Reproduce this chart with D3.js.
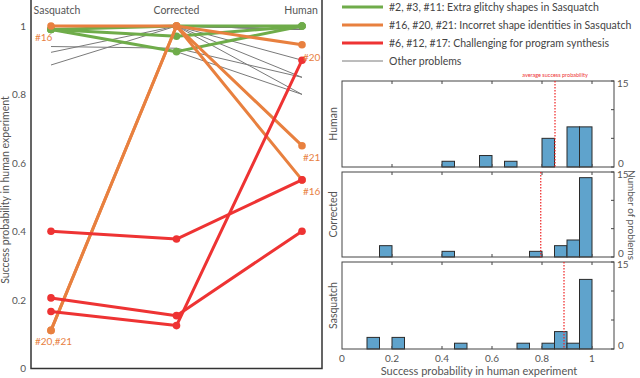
<!DOCTYPE html>
<html><head><meta charset="utf-8">
<script src="https://cdn.jsdelivr.net/npm/d3@7/dist/d3.min.js"></script>
<style>body{margin:0;background:#fff}svg{display:block}text{font-family:Lato,"Open Sans",sans-serif}</style>
</head><body><svg id="c" width="640" height="378"></svg>
<script>
// ---------- data ----------
const stages = ["Sasquatch", "Corrected", "Human"];
const yTicks = [0, 0.2, 0.4, 0.6, 0.8, 1];
// problems: values at [Sasquatch, Corrected, Human]
const otherProblems = [
  [0.94, 0.935, 0.85],
  [0.923, 1.0, 0.99],
  [0.886, 1.0, 0.99],
  [0.99, 1.0, 0.90],
  [0.99, 1.0, 0.85],
  [0.99, 1.0, 0.80],
  [0.99, 0.925, 0.80],
  [0.99, 1.0, 0.99],
  [0.99, 1.0, 1.0],
  [0.99, 1.0, 1.0],
  [1.0, 1.0, 1.0],
  [1.0, 1.0, 0.99],
  [0.99, 1.0, 1.0],
  [1.0, 1.0, 1.0]
];
const glitchyProblems = [   // #2, #3, #11
  [0.99, 1.0, 1.0],
  [0.99, 0.97, 1.0],
  [0.99, 0.925, 1.0]
];
const identityProblems = [  // #16, #20, #21
  [1.0, 1.0, 0.55],
  [0.11, 1.0, 0.945],
  [0.11, 1.0, 0.65]
];
const synthesisProblems = [ // #6, #12, #17
  [0.40, 0.377, 0.55],
  [0.205, 0.153, 0.40],
  [0.165, 0.124, 0.90]
];
const legendLabels = [
  "#2, #3, #11: Extra glitchy shapes in Sasquatch",
  "#16, #20, #21: Incorret shape identities in Sasquatch",
  "#6, #12, #17: Challenging for program synthesis",
  "Other problems"
];
// histograms: counts per 0.05-wide bin from 0 to 1
const binEdges = d3.range(0, 1.0001, 0.05);
const humanCounts     = [0,0,0,0,0,0,0,0,1,0,0,2,0,1,0,0,5,0,7,7];
const correctedCounts = [0,0,0,2,0,0,0,0,1,0,0,0,0,0,0,1,0,2,3,14];
const sasquatchCounts = [0,0,2,0,2,0,0,0,0,1,0,0,0,0,1,0,1,3,1,12];
const averages = {Human: 0.852, Corrected: 0.795, Sasquatch: 0.888};
const histTicks = [0, 0.2, 0.4, 0.6, 0.8, 1];
const countTicks = [0, 5, 10, 15];

// ---------- styles ----------
const cGreen = "#6fac4a", cOrange = "#e8803f", cRed = "#ee3333", cGray = "#7a7a7a";
const cText = "#555";
const svg = d3.select("#c");

// ---------- left panel ----------
const x = d3.scalePoint().domain(stages).range([51, 302]);
const y = d3.scaleLinear().domain([0, 1]).range([368, 26]);
const L = svg.append("g");
L.append("path").attr("d", "M31,-2V368.5H322V-2").attr("fill", "none").attr("stroke", "#333").attr("stroke-width", 1.5);
L.selectAll(".yt").data(yTicks).enter().append("text")
  .attr("x", 26).attr("y", d => y(d) + 4).attr("text-anchor", "end")
  .attr("font-size", 10).attr("fill", cText).text(d => d);
L.selectAll(".st").data(stages).enter().append("text")
  .attr("x", d => d === "Sasquatch" ? x(d) + 6 : d === "Human" ? x(d) - 1 : x(d))
  .attr("y", 14).attr("text-anchor", "middle")
  .attr("font-size", 10.5).attr("fill", cText).text(d => d);
L.append("text").attr("transform", "translate(9,190) rotate(-90)")
  .attr("text-anchor", "middle").attr("font-size", 10.5).attr("fill", cText)
  .text("Success probability in human experiment");

const line = d3.line().x((d, i) => x(stages[i])).y(d => y(d));
function group(data, color, w, r) {
  const g = L.append("g");
  g.selectAll("path").data(data).enter().append("path")
    .attr("d", line).attr("fill", "none").attr("stroke", color).attr("stroke-width", w)
    .attr("stroke-linejoin", "round");
  if (r > 0) {
    data.forEach(row => row.forEach((v, i) => {
      g.append("circle").attr("cx", x(stages[i])).attr("cy", y(v)).attr("r", r).attr("fill", color);
    }));
  }
}
group(otherProblems, cGray, 1, 0);
group(glitchyProblems, cGreen, 3, 3.8);
group(identityProblems, cOrange, 3, 3.8);
group(synthesisProblems, cRed, 3, 3.8);

const ann = [
  {t: "#16", s: 0, v: 1.0, dx: -16, dy: 15},
  {t: "#20", s: 2, v: 0.945, dx: 1, dy: 16},
  {t: "#21", s: 2, v: 0.65, dx: 1, dy: 15},
  {t: "#16", s: 2, v: 0.55, dx: 1, dy: 15},
  {t: "#20,#21", s: 0, v: 0.11, dx: -16, dy: 15}
];
L.selectAll(".an").data(ann).enter().append("text")
  .attr("x", d => x(stages[d.s]) + d.dx).attr("y", d => y(d.v) + d.dy)
  .attr("font-size", 10).attr("fill", cOrange).text(d => d.t);

// ---------- legend ----------
const legColors = [cGreen, cOrange, cRed, cGray];
const leg = svg.append("g");
legendLabels.forEach((t, i) => {
  const yy = 7 + i * 18;
  leg.append("line").attr("x1", 342).attr("x2", 383).attr("y1", yy).attr("y2", yy)
    .attr("stroke", legColors[i]).attr("stroke-width", i === 3 ? 1 : 3);
  leg.append("text").attr("x", 389).attr("y", yy + 4).attr("font-size", 10.5)
    .attr("fill", "#444").text(t);
});

// ---------- histograms ----------
const hx = d3.scaleLinear().domain([0, 1]).range([342, 592]);
const xRight = 614;
const panels = [
  {name: "Human", counts: humanCounts, top: 81, bottom: 167},
  {name: "Corrected", counts: correctedCounts, top: 172, bottom: 257},
  {name: "Sasquatch", counts: sasquatchCounts, top: 262, bottom: 349}
];
panels.forEach((p, pi) => {
  const g = svg.append("g");
  const hy = d3.scaleLinear().domain([0, 15]).range([p.bottom, p.top]);
  histTicks.forEach(t => {
    if (t === 0) return;
    g.append("line").attr("x1", hx(t)).attr("x2", hx(t)).attr("y1", p.top).attr("y2", p.top + 3).attr("stroke", "#444");
    g.append("line").attr("x1", hx(t)).attr("x2", hx(t)).attr("y1", p.bottom).attr("y2", p.bottom - 3).attr("stroke", "#444");
  });
  countTicks.forEach(t => {
    g.append("line").attr("x1", xRight).attr("x2", xRight - 3).attr("y1", hy(t)).attr("y2", hy(t)).attr("stroke", "#444");
  });
  g.append("text").attr("x", 617).attr("y", hy(15) + 6).attr("font-size", 10).attr("fill", cText).text("15");
  g.append("text").attr("x", 618).attr("y", hy(0)).attr("font-size", 10).attr("fill", cText).text("0");
  const nz = p.counts.map((c, i) => c > 0 ? i : -1).filter(i => i >= 0);
  const first = nz[0], last = nz[nz.length - 1];
  const bars = p.counts.map((c, i) => ({c, i})).filter(d => d.i >= first && d.i <= last);
  g.selectAll("rect").data(bars).enter().append("rect")
    .attr("x", d => hx(binEdges[d.i])).attr("width", d => hx(binEdges[d.i + 1]) - hx(binEdges[d.i]))
    .attr("y", d => hy(d.c)).attr("height", d => hy(0) - hy(d.c))
    .attr("fill", "#5fa3cc").attr("stroke", "#2b2b2b").attr("stroke-width", 1);
  g.append("rect").attr("x", 342).attr("y", p.top).attr("width", xRight - 342).attr("height", p.bottom - p.top)
    .attr("fill", "none").attr("stroke", "#444").attr("stroke-width", 1);
  g.append("line").attr("x1", hx(averages[p.name])).attr("x2", hx(averages[p.name]))
    .attr("y1", p.top).attr("y2", p.bottom).attr("stroke", "#ee2222").attr("stroke-width", 1.2)
    .attr("stroke-dasharray", "1.5,1.5");
  g.append("text").attr("transform", `translate(337,${(p.top + p.bottom) / 2}) rotate(-90)`)
    .attr("text-anchor", "middle").attr("font-size", 10.5).attr("fill", cText).text(p.name);
  if (pi === 2) {
    histTicks.forEach(t => {
      g.append("text").attr("x", hx(t)).attr("y", 362).attr("text-anchor", "middle")
        .attr("font-size", 10).attr("fill", cText).text(t);
    });
  }
});
svg.append("text").attr("x", hx(averages.Human)).attr("y", 77).attr("text-anchor", "middle")
  .attr("font-size", 5.5).attr("fill", "#ee3333").text("average success probability");
svg.append("text").attr("x", 479).attr("y", 375).attr("text-anchor", "middle")
  .attr("font-size", 11).attr("fill", cText).text("Success probability in human experiment");
svg.append("text").attr("transform", "translate(628,215) rotate(90)")
  .attr("text-anchor", "middle").attr("font-size", 10).attr("fill", cText).text("Number of problems");
</script></body></html>
